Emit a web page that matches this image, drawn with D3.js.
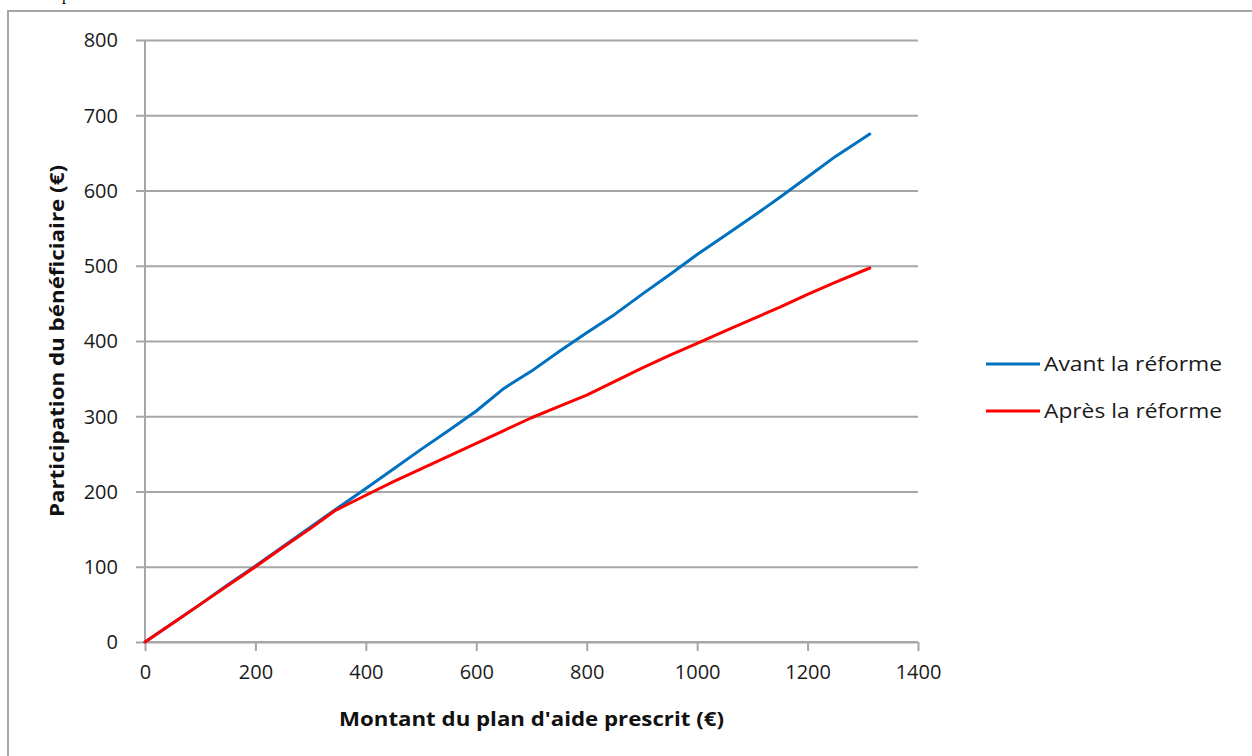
<!DOCTYPE html>
<html>
<head>
<meta charset="utf-8">
<script src="https://cdn.jsdelivr.net/npm/d3@7"></script>
<style>
  html, body { margin: 0; padding: 0; background: #fff; }
  svg { display: block; }
</style>
</head>
<body>
<svg id="chart" width="1252" height="756"></svg>
<script>
// ---- Data ----
const planAmounts = [0, 50, 100, 150, 200, 250, 300, 345, 400, 450, 500, 550, 600, 650, 700, 750, 800, 850, 900, 950, 1000, 1050, 1100, 1150, 1200, 1250, 1312.67];
const avantReforme = [0, 25, 50, 76, 101, 127, 153, 176, 204, 230, 256, 281, 307, 337, 360, 386, 411, 435, 462, 488, 515, 540, 565, 591, 618, 645, 675];
const apresReforme = [0, 25, 50, 75, 100, 126, 151, 175, 195, 213, 230, 247, 264, 281, 298, 313, 328, 346, 364, 381, 397, 413, 429, 445, 462, 478, 497];
const seriesNames = ["Avant la réforme", "Après la réforme"];
const seriesColors = ["#0070C0", "#FF0000"];
const xTicks = [0, 200, 400, 600, 800, 1000, 1200, 1400];
const yTicks = [0, 100, 200, 300, 400, 500, 600, 700, 800];
const xTitle = "Montant du plan d'aide prescrit (€)";
const yTitle = "Participation du bénéficiaire (€)";

const series = [avantReforme, apresReforme].map((vals, i) => ({
  name: seriesNames[i],
  color: seriesColors[i],
  points: planAmounts.map((x, j) => ({ x, y: vals[j] }))
}));

// ---- Layout ----
const svg = d3.select("#chart");
const plot = { left: 145, right: 918, top: 40, bottom: 642 };
const x = d3.scaleLinear().domain([0, 1400]).range([plot.left, plot.right]);
const y = d3.scaleLinear().domain([0, 800]).range([plot.bottom, plot.top]);
const gridColor = "#a6a6a6";
const font = "'Open Sans', 'Noto Sans', sans-serif";
const fmt = d3.format("d");

// stray fragment of text above the frame (only its descender is visible in the reference)
svg.append("text").attr("x", 62).attr("y", 0)
  .attr("font-family", "'Liberation Serif', serif").attr("font-size", 16)
  .attr("fill", "#000").text("p");

// outer frame
svg.append("rect").attr("x", 8).attr("y", 11).attr("width", 1260).attr("height", 760)
  .attr("fill", "none").attr("stroke", gridColor).attr("stroke-width", 2);

// horizontal gridlines (with left tick marks)
const yAxis = d3.axisLeft(y).tickValues(yTicks).tickFormat(fmt)
  .tickSize(plot.right - plot.left + 9).tickPadding(18);
const gy = svg.append("g").attr("transform", `translate(${plot.right},0)`).call(yAxis);
gy.select(".domain").remove();
gy.selectAll(".tick line").attr("stroke", gridColor).attr("stroke-width", 2)
  .attr("x1", 0);
gy.selectAll(".tick text").attr("x", -(plot.right - 118)).attr("dx", 0)
  .attr("font-family", font).attr("font-size", 20).attr("fill", "#1a1a1a")
  .attr("text-anchor", "end").attr("dy", "0.34em");

// y axis line
svg.append("line").attr("x1", plot.left).attr("x2", plot.left)
  .attr("y1", plot.top).attr("y2", plot.bottom)
  .attr("stroke", gridColor).attr("stroke-width", 2);

// x axis
const xAxis = d3.axisBottom(x).tickValues(xTicks).tickFormat(fmt).tickSize(9).tickPadding(14);
const gx = svg.append("g").attr("transform", `translate(0,${plot.bottom})`).call(xAxis);
gx.select(".domain").attr("stroke", gridColor).attr("stroke-width", 2)
  .attr("d", `M${plot.left},0H${plot.right}`);
gx.selectAll(".tick line").attr("stroke", gridColor).attr("stroke-width", 2);
gx.selectAll(".tick text").attr("font-family", font).attr("font-size", 20)
  .attr("fill", "#1a1a1a");

// axis titles
svg.append("text").attr("x", (plot.left + plot.right) / 2).attr("y", 726)
  .attr("text-anchor", "middle").attr("font-family", font).attr("font-weight", "bold")
  .attr("font-size", 19).attr("fill", "#111").attr("textLength", 385)
  .attr("lengthAdjust", "spacingAndGlyphs").text(xTitle);

svg.append("text").attr("transform", `translate(64,${(plot.top + plot.bottom) / 2}) rotate(-90)`)
  .attr("text-anchor", "middle").attr("font-family", font).attr("font-weight", "bold")
  .attr("font-size", 19).attr("fill", "#111").attr("textLength", 352)
  .attr("lengthAdjust", "spacingAndGlyphs").text(yTitle);

// lines
const line = d3.line().x(d => x(d.x)).y(d => y(d.y));
series.forEach(s => {
  svg.append("path").datum(s.points).attr("d", line)
    .attr("fill", "none").attr("stroke", s.color).attr("stroke-width", 3)
    .attr("stroke-linejoin", "round").attr("stroke-linecap", "round");
});

// legend
const legendY = [364, 411];
series.forEach((s, i) => {
  const g = svg.append("g").attr("transform", `translate(986,${legendY[i]})`);
  g.append("line").attr("x1", 0).attr("x2", 54).attr("y1", 0).attr("y2", 0)
    .attr("stroke", s.color).attr("stroke-width", 3);
  g.append("text").attr("x", 58).attr("y", 0).attr("dy", "0.35em")
    .attr("font-family", font).attr("font-size", 20).attr("fill", "#1a1a1a")
    .attr("textLength", 178).attr("lengthAdjust", "spacingAndGlyphs")
    .text(s.name);
});
</script>
</body>
</html>
